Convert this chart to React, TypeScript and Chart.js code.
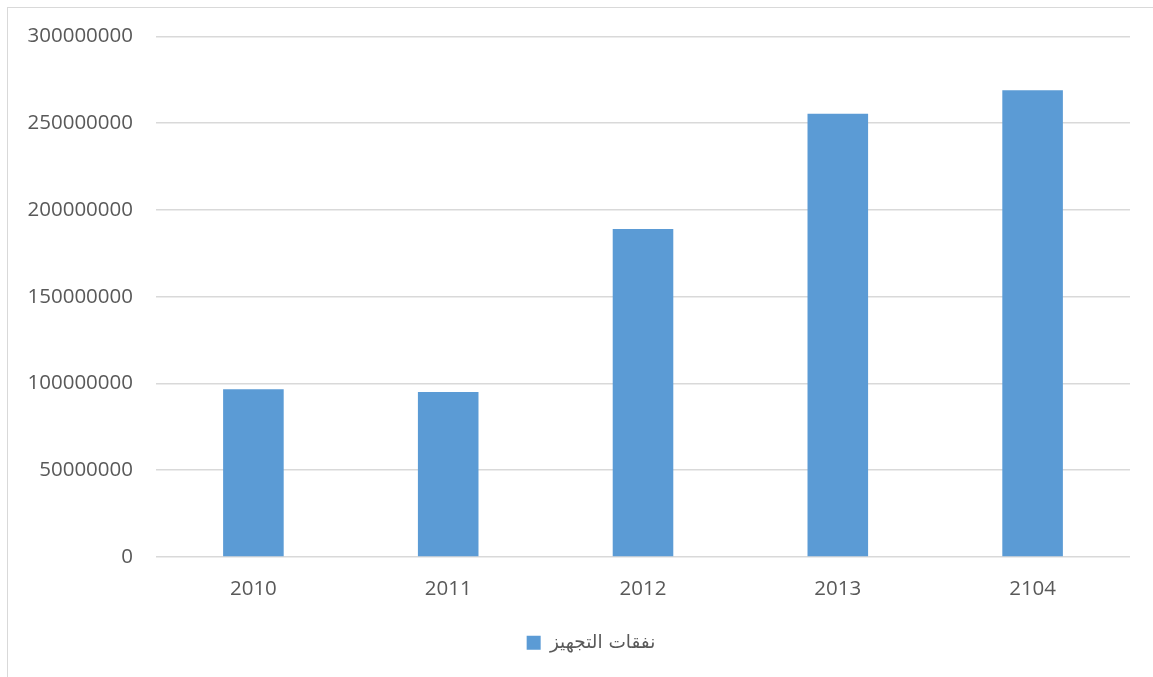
import React, { useEffect, useRef } from "react";
import { Chart, registerables } from "chart.js";

Chart.register(...registerables);

const categories = ["2010", "2011", "2012", "2013", "2104"];
const seriesLabel = "نفقات التجهيز";
const seriesValues = [96700000, 95000000, 189000000, 255500000, 269000000];
const yTicks = { min: 0, max: 300000000, step: 50000000 };

const legendShift = {
  id: "legendShift",
  afterLayout(chart: any) {
    if (chart.legend) {
      chart.legend.left += 44;
    }
  },
};

export default function App() {
  const ref = useRef<HTMLCanvasElement | null>(null);
  useEffect(() => {
    document.body.style.overflow = "hidden";
    document.documentElement.style.overflow = "hidden";
    if (!ref.current) return;
    const font = { family: "'Open Sans', 'DejaVu Sans', sans-serif", size: 20.5 };
    const chart = new Chart(ref.current, {
      type: "bar",
      data: {
        labels: categories,
        datasets: [
          {
            label: seriesLabel,
            data: seriesValues,
            backgroundColor: "#5B9BD5",
            borderColor: "#5B9BD5",
            borderWidth: 0,
            barPercentage: 1,
            categoryPercentage: 0.311,
          },
        ],
      },
      plugins: [legendShift],
      options: {
        animation: false,
        responsive: false,
        maintainAspectRatio: false,
        layout: { padding: { top: 28.5, right: 14, bottom: 14, left: 0 } },
        plugins: {
          tooltip: { enabled: false },
          legend: {
            position: "bottom",
            labels: {
              color: "#595959",
              font: { family: "'DejaVu Sans', 'Noto Sans', sans-serif", size: 18.5 },
              boxWidth: 14,
              boxHeight: 14,
              padding: 12,
            },
          },
        },
        scales: {
          x: {
            grid: { display: false, drawTicks: false },
            border: { display: false },
            ticks: { color: "#595959", font, padding: 20 },
          },
          y: {
            min: yTicks.min,
            max: yTicks.max,
            afterFit: (s: any) => {
              s.width = 148;
              s.paddingTop = 12;
              s.paddingBottom = 12;
            },
            grid: { color: "#d9d9d9", lineWidth: 1.5, drawTicks: false },
            border: { display: false },
            ticks: {
              stepSize: yTicks.step,
              color: "#595959",
              font,
              padding: 23,
              callback: (v: any) => String(v),
            },
          },
        },
      },
    });
    return () => chart.destroy();
  }, []);
  return (
    <div
      style={{
        position: "absolute",
        left: 7,
        top: 7,
        borderTop: "1.5px solid #d9d9d9",
        borderLeft: "1.5px solid #d9d9d9",
        width: 1170,
        height: 690,
        overflow: "hidden",
      }}
    >
      <canvas ref={ref} width={1136} height={668} style={{ display: "block" }} />
    </div>
  );
}
